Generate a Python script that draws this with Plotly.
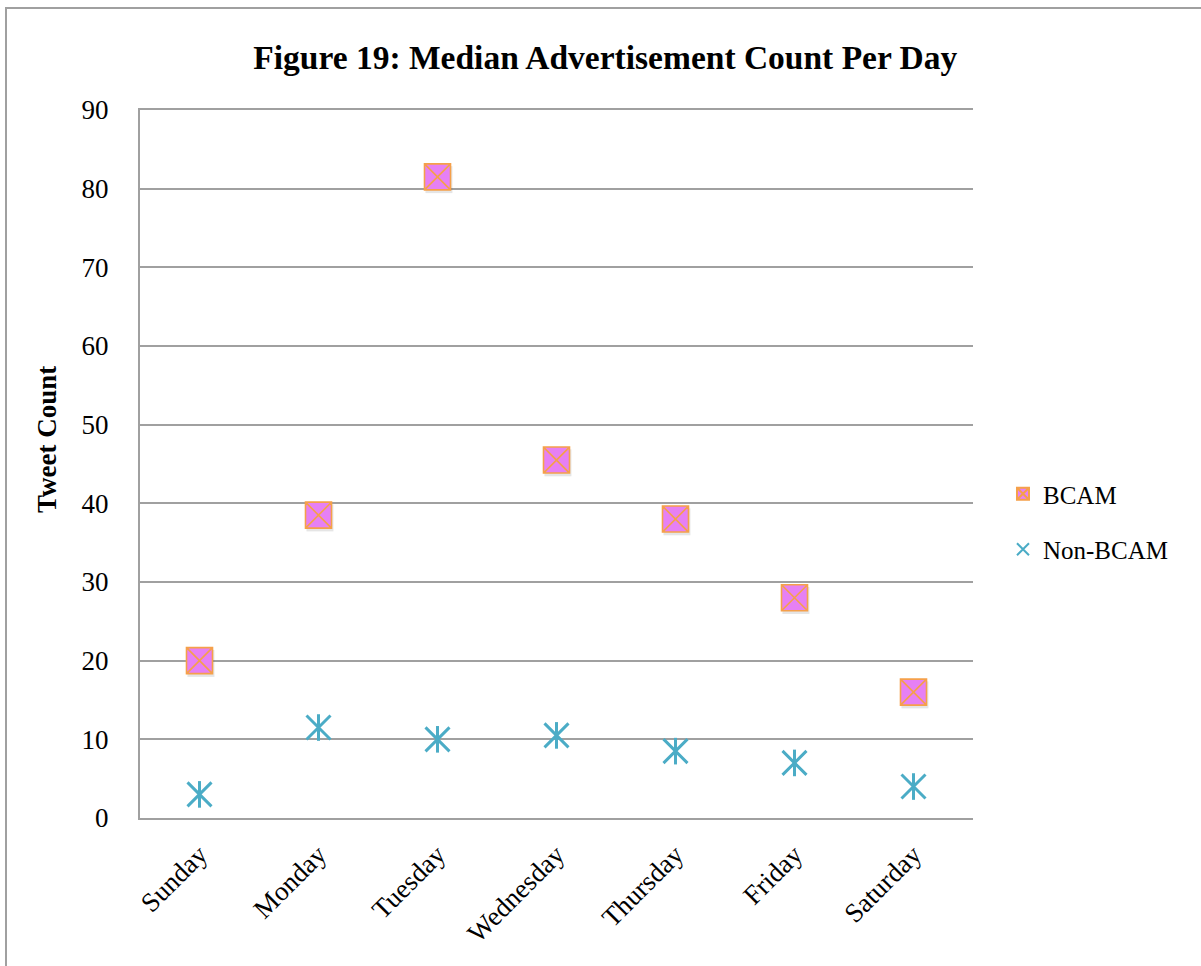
import plotly.graph_objects as go

days = ["Sunday", "Monday", "Tuesday", "Wednesday", "Thursday", "Friday", "Saturday"]
bcam = [20, 38.5, 81.5, 45.5, 38, 28, 16]
non_bcam = [3, 11.5, 10, 10.5, 8.5, 7, 4]
y_ticks = [0, 10, 20, 30, 40, 50, 60, 70, 80, 90]

FONT = "Liberation Serif"
VIOLET = "#E680F4"
ORANGE = "#F5A04A"
AQUA = "#4BACC6"
GRID = "#A0A0A0"

xs = list(range(len(days)))

fig = go.Figure()

# soft drop shadows under the markers
fig.add_trace(go.Scatter(
    x=[x + 0.012 for x in xs], y=[v - 0.35 for v in bcam], mode="markers",
    marker=dict(symbol="square", size=27, color="rgba(0,0,0,0.10)", line=dict(width=0)),
    showlegend=False, hoverinfo="skip"))

# BCAM: violet square with an orange cross
fig.add_trace(go.Scatter(
    x=xs, y=bcam, mode="markers", name="BCAM", legendgroup="a",
    marker=dict(symbol="square-x", size=26, color=VIOLET,
                line=dict(width=1.6, color=ORANGE))))

# Non-BCAM: six-armed star built from a thin x and a vertical stroke
fig.add_trace(go.Scatter(
    x=xs, y=non_bcam, mode="markers", name="Non-BCAM", legendgroup="b",
    marker=dict(symbol="x-thin-open", size=24, color=AQUA,
                line=dict(width=3, color=AQUA))))
fig.add_trace(go.Scatter(
    x=xs, y=non_bcam, mode="markers", showlegend=False, legendgroup="b",
    hoverinfo="skip",
    marker=dict(symbol="line-ns-open", size=19, color=AQUA,
                line=dict(width=3, color=AQUA))))

fig.update_layout(
    width=1201, height=966,
    margin=dict(l=140, r=228, t=110, b=148),
    paper_bgcolor="white", plot_bgcolor="white",
    font=dict(family=FONT, size=24, color="black"),
    title=dict(text="<b>Figure 19: Median Advertisement Count Per Day</b>",
               font=dict(family=FONT, size=33.5, color="black"),
               x=0.504, xanchor="center", y=0.941, yanchor="middle"),
    xaxis=dict(range=[-0.5, 6.5], tickvals=xs, ticktext=days, tickangle=-45,
               showgrid=False, zeroline=False, showline=True, linecolor=GRID,
               linewidth=2, mirror=True, ticks="", ticklabelstandoff=8,
               tickfont=dict(family=FONT, size=27)),
    yaxis=dict(range=[0, 90], tickvals=y_ticks, showgrid=True, gridcolor=GRID,
               gridwidth=2, zeroline=False, showline=True, linecolor=GRID,
               linewidth=2, ticks="", ticklabelstandoff=24,
               tickfont=dict(family=FONT, size=27)),
    legend=dict(x=1.036, xanchor="left", y=0.49, yanchor="top",
                font=dict(family=FONT, size=25), tracegroupgap=20,
                itemsizing="constant", bgcolor="rgba(0,0,0,0)"),
    showlegend=True,
)

fig.add_annotation(text="<b>Tweet Count</b>", xref="paper", yref="paper",
                   x=(47 - 140) / 833, y=(818 - 440) / 708, textangle=-90,
                   showarrow=False, font=dict(family=FONT, size=27, color="black"),
                   xanchor="center", yanchor="middle")

# outer frame of the chart
fig.add_shape(type="rect", xref="paper", yref="paper",
              x0=(6 - 140) / 833, y0=-0.3, x1=1.5, y1=(818 - 8) / 708,
              line=dict(color=GRID, width=2), fillcolor="rgba(0,0,0,0)", layer="below")

fig.write_html("out.html")
